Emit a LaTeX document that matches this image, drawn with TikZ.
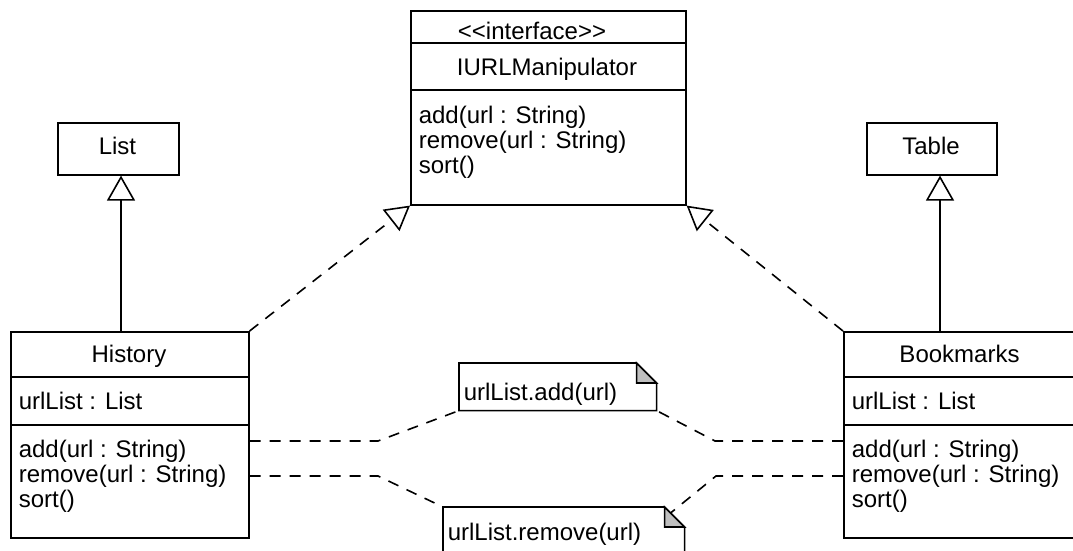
\documentclass[tikz,border=0pt]{standalone}
\usepackage{fontspec}
\setmainfont{Liberation Sans}[Ligatures=TeXOff]
\usetikzlibrary{arrows.meta,calc}
\definecolor{foldgray}{RGB}{191,191,191}
\begin{document}
\begin{tikzpicture}[x=1pt,y=-1pt,
  line width=1.6pt,
  umlbox/.style={draw, line width=1.6pt, inner sep=0pt, anchor=north west},
  notebox/.style={inner sep=0pt, anchor=north west},
  lbl/.style={inner sep=0pt, anchor=base west, font=\fontsize{24pt}{25pt}\selectfont},
  ctr/.style={inner sep=0pt, anchor=base, font=\fontsize{24pt}{25pt}\selectfont},
  dep/.style={dash pattern=on 11pt off 9pt},
  realize/.style={dep, -{Triangle[open, length=24pt, width=27pt, line width=1.6pt]}},
  gen/.style={-{Triangle[open, length=25pt, width=28pt, line width=1.6pt]}},
  fold/.style={fill=foldgray, line join=miter}
]
\useasboundingbox (0,0) rectangle (1073,551);
\clip (0,0) rectangle (1073,551);

% interface
\node[umlbox, minimum width=275pt, minimum height=194pt] (IURL) at (410,10) {};
\draw (IURL.west |- 0,43) -- (IURL.east |- 0,43);
\draw (IURL.west |- 0,90) -- (IURL.east |- 0,90);
\node[ctr] (stereo) at (532,40) {<<interface>>};
\node[ctr] (iname) at (547,75) {IURLManipulator};
\node[lbl] (im1) at (418,123) {add(url : String)};
\node[lbl] (im2) at (418,148) {remove(url : String)};
\node[lbl] (im3) at (418,173) {sort()};

% base classes
\node[umlbox, minimum width=121pt, minimum height=52pt] (List) at (57,122) {};
\node[ctr] (listname) at (117.5,154) {List};
\node[umlbox, minimum width=130pt, minimum height=52pt] (Table) at (866,122) {};
\node[ctr] (tablename) at (931,154) {Table};

% History
\node[umlbox, minimum width=238pt, minimum height=206pt] (History) at (10,331) {};
\draw (History.west |- 0,377) -- (History.east |- 0,377);
\draw (History.west |- 0,425) -- (History.east |- 0,425);
\node[ctr] (hname) at (129,362) {History};
\node[lbl] (ha) at (18,409) {urlList : List};
\node[lbl] (hm1) at (18,457) {add(url : String)};
\node[lbl] (hm2) at (18,482) {remove(url : String)};
\node[lbl] (hm3) at (18,507) {sort()};

% Bookmarks
\node[umlbox, minimum width=233pt, minimum height=206pt] (Bookmarks) at (843,331) {};
\draw (Bookmarks.west |- 0,377) -- (Bookmarks.east |- 0,377);
\draw (Bookmarks.west |- 0,425) -- (Bookmarks.east |- 0,425);
\node[ctr] (bname) at (959.5,362) {Bookmarks};
\node[lbl] (ba) at (851,409) {urlList : List};
\node[lbl] (bm1) at (851,457) {add(url : String)};
\node[lbl] (bm2) at (851,482) {remove(url : String)};
\node[lbl] (bm3) at (851,507) {sort()};

% notes
\node[notebox, minimum width=196pt, minimum height=46pt] (n1) at (459,363) {};
\draw (n1.south west) -- (n1.north west) -- ($(n1.north east)+(-20,0)$)
  -- ($(n1.north east)+(0,20)$) -- (n1.south east) -- cycle;
\draw[fold] ($(n1.north east)+(-20,0)$) -- ($(n1.north east)+(-20,20)$)
  -- ($(n1.north east)+(0,20)$) -- cycle;
\node[lbl] (n1t) at (463,400) {urlList.add(url)};

\node[notebox, minimum width=240pt, minimum height=70pt] (n2) at (443,507) {};
\draw (n2.south west) -- (n2.north west) -- ($(n2.north east)+(-20,0)$)
  -- ($(n2.north east)+(0,20)$) -- (n2.south east) -- cycle;
\draw[fold] ($(n2.north east)+(-20,0)$) -- ($(n2.north east)+(-20,20)$)
  -- ($(n2.north east)+(0,20)$) -- cycle;
\node[lbl] (n2t) at (447,540) {urlList.remove(url)};

% note connectors
\coordinate (a1) at (378,441);
\coordinate (b1) at (715,441);
\coordinate (a2) at (378,476);
\coordinate (b2) at (716,476);
\coordinate (n2end) at ($(n2.north east)+(-14,6)$);
\draw[dep] (History.east |- a1) -- (a1) -- (n1.south west);
\draw[dep] (Bookmarks.west |- b1) -- (b1) -- (n1.south east);
\draw[dep] (History.east |- a2) -- (a2) -- (n2.north west);
\draw[dep] (Bookmarks.west |- b2) -- (b2) -- (n2end);

% realizations
\draw[realize] (History.north east) -- (IURL.south west);
\draw[realize] (Bookmarks.north west) -- (IURL.south east);

% generalizations
\coordinate (hl) at (121,331);
\coordinate (bl) at (940,331);
\draw[gen] (hl) -- (hl |- List.south);
\draw[gen] (bl) -- (bl |- Table.south);
\end{tikzpicture}
\end{document}
